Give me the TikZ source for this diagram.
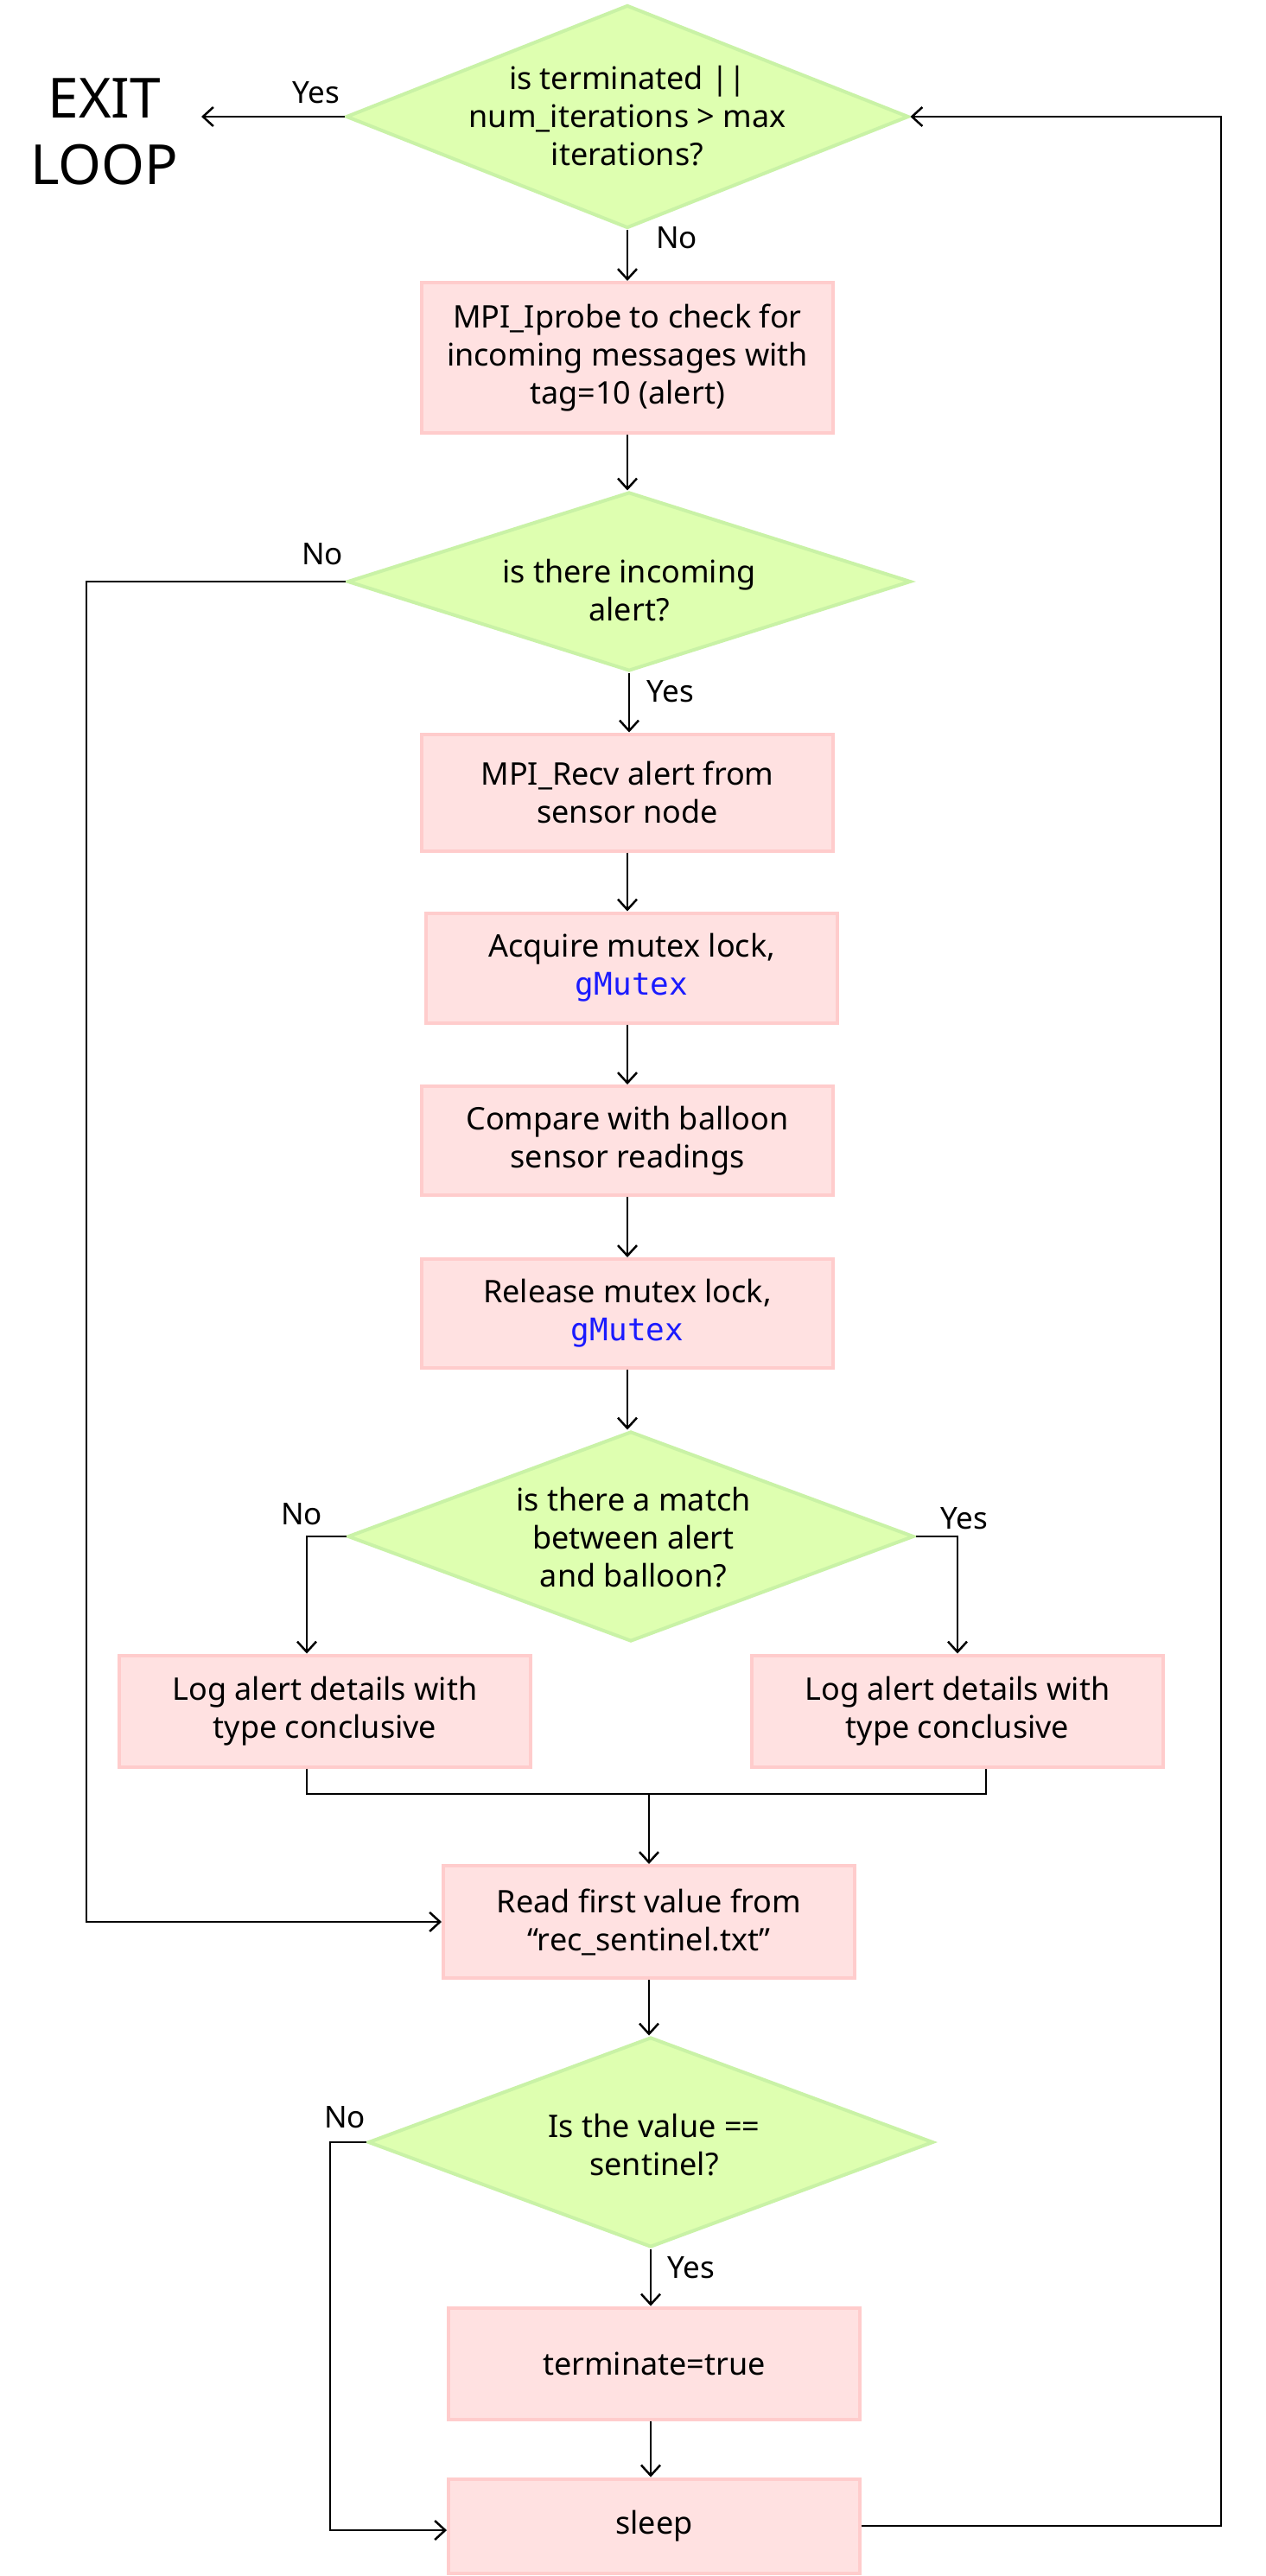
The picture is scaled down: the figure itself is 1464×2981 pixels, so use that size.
\documentclass[tikz,border=0pt]{standalone}
\usepackage{fontspec}
\setmainfont{Noto Sans}
\setmonofont{DejaVu Sans Mono}
\usetikzlibrary{arrows.meta,shapes.geometric,calc}
\definecolor{dfill}{HTML}{DEFFB0}
\definecolor{dline}{HTML}{C9F2A6}
\definecolor{bfill}{HTML}{FFE1E1}
\definecolor{bline}{HTML}{FFCCCC}
\definecolor{codeblue}{HTML}{1A1AFF}
\begin{document}
\begin{tikzpicture}[x=1pt,y=-1pt,
  box/.style={rectangle, fill=bfill, draw=bline, line width=4pt, minimum width=476pt, minimum height=129pt, align=center, font=\fontsize{36}{44}\selectfont, inner sep=0pt},
  dia/.style={diamond, fill=dfill, draw=dline, line width=4pt, inner sep=0pt},
  dtext/.style={align=center, font=\fontsize{36}{44}\selectfont, inner sep=0pt},
  lab/.style={font=\fontsize{35}{42}\selectfont, inner sep=0pt},
  ln/.style={line width=2.5pt},
  arr/.style={line width=2.5pt, -{Straight Barb[length=12pt,width=22pt,line width=2.5pt]}},
  code/.style={}]
\useasboundingbox[fill=white] (0,0) rectangle (1464,2981);

% diamonds
\node[dia, minimum width=651pt, minimum height=258pt] (d1) at (726,135) {};
\node[dtext] (t1) at (726,134) {is terminated ||\\num\_iterations > max\\iterations?};
\node[dia, minimum width=652pt, minimum height=207pt] (d2) at (728,673) {};
\node[dtext] (t2) at (728,683) {is there incoming\\alert?};
\node[dia, minimum width=655pt, minimum height=243pt] (d3) at (730,1778) {};
\node[dtext] (t3) at (733,1779) {is there a match\\between alert\\and balloon?};
\node[dia, minimum width=654pt, minimum height=243pt] (d4) at (753,2479) {};
\node[dtext] (t4) at (757,2482) {Is the value ==\\sentinel?};

% boxes
\node[box, minimum height=174pt] (b1) at (726,414) {MPI\_Iprobe to check for\\incoming messages with\\tag=10 (alert)};
\node[box, minimum height=135pt] (b2) at (726,917) {MPI\_Recv alert from\\sensor node};
\node[box, minimum height=127pt] (b3) at (731,1120) {Acquire mutex lock,\\{\ttfamily\color{codeblue}gMutex}};
\node[box, minimum height=126pt] (b4) at (726,1320) {Compare with balloon\\sensor readings};
\node[box, minimum height=126pt] (b5) at (726,1520) {Release mutex lock,\\{\ttfamily\color{codeblue}gMutex}};
\node[box] (logL) at (376,1980) {Log alert details with\\type conclusive};
\node[box] (logR) at (1108,1980) {Log alert details with\\type conclusive};
\node[box, minimum height=130pt] (read) at (751,2224) {Read first value from\\“rec\_sentinel.txt”};
\node[box] (term) at (757,2735) {terminate=true};
\node[box, minimum height=109pt] (sleep) at (757,2923) {sleep};

% exit
\node[align=center, font=\fontsize{64}{77}\selectfont, inner sep=0pt] (exit) at (121,152) {EXIT\\LOOP};
\coordinate (exitpt) at (233,135);

% labels
\node[lab] (y1) at (366,107) {Yes};
\node[lab] (n1) at (783,275) {No};
\node[lab] (n2) at (373,641) {No};
\node[lab] (y2) at (776,800) {Yes};
\node[lab] (n3) at (349,1752) {No};
\node[lab] (y3) at (1116,1757) {Yes};
\node[lab] (n4) at (399,2450) {No};
\node[lab] (y4) at (800,2624) {Yes};

% connectors
\draw[arr] (d1.west) -- (exitpt);
\draw[arr] (d1.south) -- (d1.south |- b1.north);
\draw[arr] (b1.south) -- (b1.south |- d2.north);
\draw[arr] (d2.south) -- (d2.south |- b2.north);
\draw[arr] (b2.south) -- (b2.south |- b3.north);
\draw[arr] (b3.south -| b2.south) -- (b2.south |- b4.north);
\draw[arr] (b4.south) -- (b4.south |- b5.north);
\draw[arr] (b5.south) -- (b5.south |- d3.north);
\draw[arr] (d3.west) -| ($(logL.north)+(-21,0)$);
\draw[arr] (d3.east) -| (logR.north);
\coordinate (m) at (751,2076);
\draw[ln] ($(logL.south)+(-21,0)$) |- (m) -| ($(logR.south)+(33,0)$);
\draw[arr] (m) -- (read.north);
\draw[arr] (d2.west) -- ++(-300,0) |- (read.west);
\draw[arr] (read.south) -- (read.south |- d4.north);
\draw[arr] (d4.south) -- (d4.south |- term.north);
\draw[arr] (term.south -| d4.south) -- (d4.south |- sleep.north);
\draw[arr] (d4.west) -- ++(-42,0) |- ($(sleep.west)+(0,5)$);
\draw[arr] (sleep.east) -- ++(416,0) |- (d1.east);
\end{tikzpicture}
\end{document}
